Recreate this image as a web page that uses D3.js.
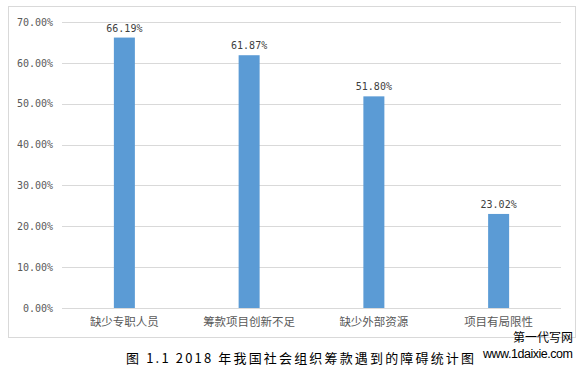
<!DOCTYPE html>
<html><head><meta charset="utf-8">
<script src="https://cdn.jsdelivr.net/npm/d3@7"></script>
<style>body{margin:0;background:#fff}svg{display:block}</style>
</head><body>
<script>
const categories = ["缺少专职人员","筹款项目创新不足","缺少外部资源","项目有局限性"];
const values = [66.19, 61.87, 51.80, 23.02];
const yTicks = [0,10,20,30,40,50,60,70];
const caption = "图 1.1 2018 年我国社会组织筹款遇到的障碍统计图";

const W=582,H=366;
const svg=d3.select("body").append("svg").attr("width",W).attr("height",H);
svg.append("rect").attr("x",8.5).attr("y",6.5).attr("width",567).attr("height",331)
  .attr("fill","#fff").attr("stroke","#d9d9d9").attr("stroke-width",1);

const x=d3.scaleBand().domain(categories).range([62,561]);
const y=d3.scaleLinear().domain([0,70]).range([308,22]);

const g=svg.append("g");
g.selectAll("line.grid").data(yTicks).join("line").attr("class","grid")
  .attr("x1",62).attr("x2",561).attr("y1",d=>Math.round(y(d))+0.5).attr("y2",d=>Math.round(y(d))+0.5)
  .attr("stroke","#d9d9d9").attr("stroke-width",1.2);

const yAxis=g.append("g").attr("transform","translate(62,0)")
  .call(d3.axisLeft(y).tickValues(yTicks).tickSize(0).tickPadding(9).tickFormat(d=>d.toFixed(2)+"%"));
yAxis.select(".domain").remove();
yAxis.selectAll("text").attr("font-family","DejaVu Sans Mono").attr("font-size",10).attr("fill","#595959");

const xAxis=g.append("g").attr("transform","translate(0,308)")
  .call(d3.axisBottom(x).tickSize(0).tickPadding(10));
xAxis.select(".domain").remove();
xAxis.selectAll("text").attr("font-family","Noto Sans CJK SC").attr("font-size",11.5).attr("fill","#595959");

const bw=21;
g.selectAll("rect.bar").data(values).join("rect").attr("class","bar")
  .attr("x",(d,i)=>x(categories[i])+x.bandwidth()/2-bw/2)
  .attr("width",bw).attr("y",d=>y(d)).attr("height",d=>y(0)-y(d))
  .attr("fill","#5B9BD5");

g.selectAll("text.lbl").data(values).join("text").attr("class","lbl")
  .attr("x",(d,i)=>x(categories[i])+x.bandwidth()/2).attr("y",d=>y(d)-6)
  .attr("text-anchor","middle").attr("font-family","DejaVu Sans Mono").attr("font-size",10)
  .attr("fill","#404040").text(d=>d.toFixed(2)+"%");

svg.append("text").attr("x",126).attr("y",363).attr("font-family","Noto Sans CJK SC")
  .attr("font-size",13).attr("fill","#000").attr("textLength",348).attr("lengthAdjust","spacing").text(caption);

svg.append("text").attr("x",573).attr("y",342).attr("text-anchor","end").attr("font-family","Noto Sans CJK SC")
  .attr("font-size",12).attr("fill","#000").text("第一代写网");
svg.append("text").attr("x",573).attr("y",358).attr("text-anchor","end").attr("font-family","Liberation Sans")
  .attr("font-size",12.5).attr("fill","#000").attr("textLength",90).text("www.1daixie.com");
</script>
</body></html>
